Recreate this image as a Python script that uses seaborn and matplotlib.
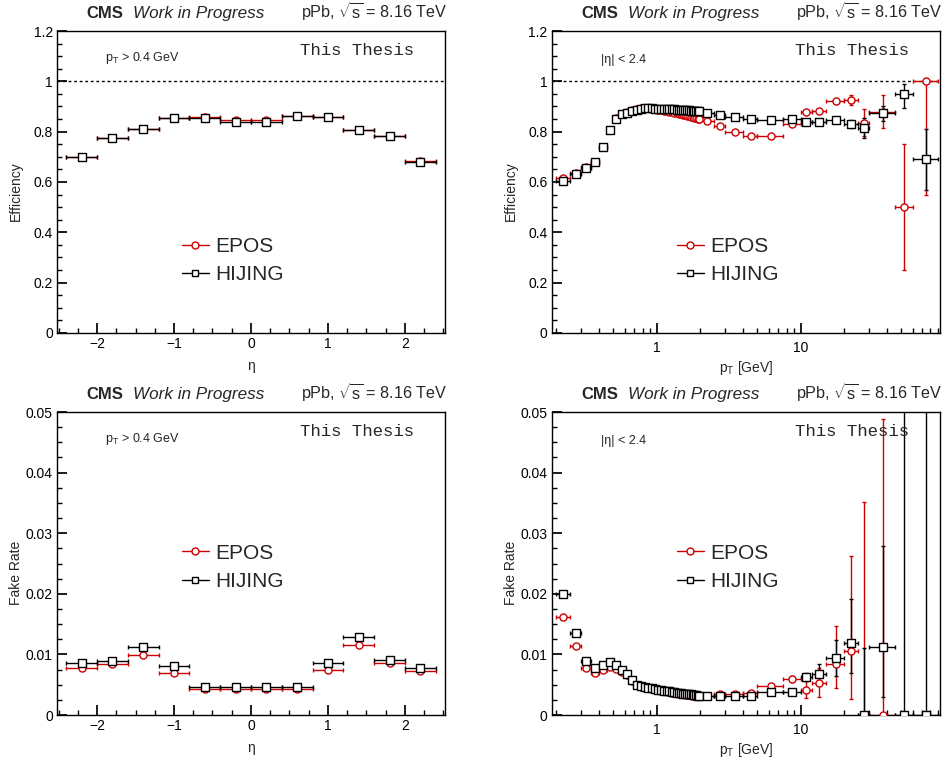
import numpy as np
import matplotlib
matplotlib.use("Agg")
import matplotlib.pyplot as plt
import seaborn as sns
from matplotlib.lines import Line2D
from matplotlib.ticker import MultipleLocator, FuncFormatter, LogLocator, NullFormatter

# ---- data ----
eta_edges = [-2.4, -2.0, -1.6, -1.2, -0.8, -0.4, 0.0, 0.4, 0.8, 1.2, 1.6, 2.0, 2.4]
eff_eta_epos = [0.700, 0.776, 0.810, 0.856, 0.858, 0.847, 0.847, 0.862, 0.858, 0.806, 0.782, 0.682]
eff_eta_hijing = [0.699, 0.775, 0.809, 0.855, 0.856, 0.840, 0.840, 0.861, 0.857, 0.805, 0.781, 0.681]
fake_eta_epos = [0.0078, 0.0085, 0.0099, 0.0070, 0.0043, 0.0043, 0.0043, 0.0043, 0.0074, 0.0115, 0.0086, 0.0073]
fake_eta_hijing = [0.0086, 0.0089, 0.0112, 0.0081, 0.0047, 0.0047, 0.0047, 0.0046, 0.0086, 0.0129, 0.0090, 0.0078]

pt_edges = [0.2, 0.25, 0.3, 0.35, 0.4, 0.45, 0.5, 0.55, 0.6, 0.65, 0.7, 0.75, 0.8, 0.85, 0.9,
            0.95, 1.0, 1.05, 1.1, 1.15, 1.2, 1.25, 1.3, 1.35, 1.4, 1.45, 1.5, 1.55, 1.6, 1.65,
            1.7, 1.75, 1.8, 1.85, 1.9, 1.95, 2.0, 2.5, 3.0, 4.0, 5.0, 7.5, 10.0, 12.0, 15.0,
            20.0, 25.0, 30.0, 45.0, 60.0, 90.0]

eff_pt_epos = [0.615, 0.636, 0.660, 0.680, 0.740, 0.807, 0.853, 0.872, 0.879, 0.886, 0.891, 0.894,
               0.894, 0.893, 0.891, 0.889, 0.887, 0.885, 0.883, 0.881, 0.879, 0.877, 0.875, 0.873,
               0.871, 0.869, 0.867, 0.865, 0.863, 0.861, 0.859, 0.857, 0.855, 0.853, 0.851, 0.849,
               0.844, 0.823, 0.800, 0.783, 0.784, 0.830, 0.880, 0.884, 0.920, 0.926, 0.836, 0.880,
               0.500, 1.000]
eff_pt_hijing = [0.605, 0.632, 0.655, 0.678, 0.738, 0.805, 0.851, 0.870, 0.876, 0.882, 0.888, 0.892,
                 0.893, 0.893, 0.893, 0.892, 0.892, 0.891, 0.891, 0.890, 0.890, 0.889, 0.889, 0.888,
                 0.887, 0.887, 0.886, 0.886, 0.885, 0.885, 0.884, 0.884, 0.883, 0.883, 0.882, 0.882,
                 0.875, 0.868, 0.860, 0.852, 0.848, 0.849, 0.840, 0.840, 0.847, 0.830, 0.816, 0.873,
                 0.950, 0.690]
fake_pt_epos = [0.0161, 0.0114, 0.0078, 0.0069, 0.0074, 0.0080, 0.0076, 0.0071, 0.0066, 0.0056,
                0.0049, 0.0047, 0.0045, 0.0044, 0.0043, 0.0042, 0.0041, 0.0040, 0.0039, 0.0039,
                0.0038, 0.0037, 0.0037, 0.0036, 0.0035, 0.0035, 0.0034, 0.0034, 0.0033, 0.0033,
                0.0033, 0.0032, 0.0032, 0.0032, 0.0031, 0.0031,
                0.0032, 0.0034, 0.0035, 0.0037, 0.0048, 0.0059, 0.0042, 0.0053, 0.0085, 0.0106,
                0.0, 0.0, np.nan, np.nan]
fake_pt_hijing = [0.0200, 0.0136, 0.0089, 0.0078, 0.0082, 0.0087, 0.0082, 0.0074, 0.0068, 0.0058,
                  0.0050, 0.0048, 0.0046, 0.0045, 0.0044, 0.0043, 0.0042, 0.0041, 0.0040, 0.0040,
                  0.0039, 0.0038, 0.0038, 0.0037, 0.0036, 0.0036, 0.0035, 0.0035, 0.0034, 0.0034,
                  0.0034, 0.0033, 0.0033, 0.0033, 0.0032, 0.0032,
                  0.0031, 0.0031, 0.0031, 0.0031, 0.0038, 0.0038, 0.0063, 0.0067, 0.0094, 0.0119,
                  0.0, 0.0113, 0.0, 0.0]

# vertical errors for the bins above 2 GeV (below that they are hidden by the markers)
eff_epos_dn = [0.003, 0.003, 0.004, 0.004, 0.004, 0.005, 0.008, 0.008, 0.010, 0.020, 0.055, 0.065, 0.25, 0.45]
eff_epos_up = [0.003, 0.003, 0.004, 0.004, 0.004, 0.005, 0.008, 0.008, 0.010, 0.020, 0.055, 0.065, 0.25, 0.0]
eff_hij_dn = [0.002, 0.002, 0.003, 0.003, 0.003, 0.004, 0.005, 0.006, 0.008, 0.015, 0.040, 0.030, 0.055, 0.12]
eff_hij_up = [0.002, 0.002, 0.003, 0.003, 0.003, 0.004, 0.005, 0.006, 0.008, 0.015, 0.040, 0.030, 0.040, 0.12]
fake_epos_dn = [0.0001, 0.0001, 0.0002, 0.0002, 0.0003, 0.0005, 0.0014, 0.0024, 0.0040, 0.0080, 0.0, 0.0, 0.0, 0.0]
fake_epos_up = [0.0001, 0.0001, 0.0002, 0.0002, 0.0003, 0.0005, 0.0014, 0.0024, 0.0062, 0.0156, 0.0352, 0.0488, 0.0, 0.0]
fake_hij_dn = [0.0001, 0.0001, 0.0002, 0.0002, 0.0003, 0.0003, 0.0007, 0.0018, 0.0030, 0.0050, 0.0, 0.0083, 0.0, 0.0]
fake_hij_up = [0.0001, 0.0001, 0.0002, 0.0002, 0.0003, 0.0003, 0.0007, 0.0018, 0.0030, 0.0072, 0.0110, 0.0166, 0.08, 0.08]

RED = "#cc0000"
BLACK = "black"

sns.set_theme(style="ticks")
plt.rcParams['font.family'] = ['Liberation Sans', 'DejaVu Sans']
plt.rcParams.update({
    'mathtext.fontset': 'custom',
    'mathtext.rm': 'Liberation Sans',
    'mathtext.it': 'Liberation Sans:italic',
    'mathtext.bf': 'Liberation Sans:bold',
    'axes.linewidth': 1.0,
    'axes.edgecolor': 'black',
    'xtick.direction': 'in',
    'ytick.direction': 'in',
    'xtick.major.size': 7,
    'ytick.major.size': 7,
    'xtick.minor.size': 3.5,
    'ytick.minor.size': 3.5,
    'xtick.labelsize': 10,
    'ytick.labelsize': 10,
})


def bins(edges):
    e = np.asarray(edges)
    c = 0.5 * (e[:-1] + e[1:])
    return c, c - e[:-1], e[1:] - c


def draw(ax, edges, y, dn, up, color, marker, size):
    x, xl, xh = bins(edges)
    y = np.asarray(y, dtype=float)
    ax.errorbar(x, y, xerr=[xl, xh], yerr=[dn, up], fmt='none', ecolor=color,
                elinewidth=1.0, capsize=1.2, capthick=1.0, zorder=2)
    sns.scatterplot(x=x, y=y, marker=marker, s=size, color='white', edgecolor=color,
                    linewidth=1.0, ax=ax, zorder=3, legend=False)


def pad(n, high):
    return np.r_[np.zeros(n), high]


fmt = FuncFormatter(lambda v, p: ("%g" % v).replace("-", "\u2212"))

fig, axes = plt.subplots(2, 2, figsize=(9.45, 7.58), dpi=100)
ax_tl, ax_tr = axes[0]
ax_bl, ax_br = axes[1]
ax_tl.set_position([0.0603, 0.5607, 0.4106, 0.3984])
ax_tr.set_position([0.5840, 0.5607, 0.4106, 0.3984])
ax_bl.set_position([0.0603, 0.0567, 0.4106, 0.3997])
ax_br.set_position([0.5840, 0.0567, 0.4106, 0.3997])

CS, SS = 26, 28  # marker areas for circles / squares

n_eta = len(eff_eta_epos)
z = np.zeros(n_eta)
draw(ax_tl, eta_edges, eff_eta_epos, z + 0.002, z + 0.002, RED, 'o', CS)
draw(ax_tl, eta_edges, eff_eta_hijing, z + 0.002, z + 0.002, BLACK, 's', SS)
draw(ax_bl, eta_edges, fake_eta_epos, z + 0.0001, z + 0.0001, RED, 'o', CS)
draw(ax_bl, eta_edges, fake_eta_hijing, z + 0.0001, z + 0.0001, BLACK, 's', SS)

n_low = len(pt_edges) - 1 - len(eff_epos_dn)
draw(ax_tr, pt_edges, eff_pt_epos, pad(n_low, eff_epos_dn), pad(n_low, eff_epos_up), RED, 'o', CS)
draw(ax_tr, pt_edges, eff_pt_hijing, pad(n_low, eff_hij_dn), pad(n_low, eff_hij_up), BLACK, 's', SS)
draw(ax_br, pt_edges, fake_pt_epos, pad(n_low, fake_epos_dn), pad(n_low, fake_epos_up), RED, 'o', CS)
draw(ax_br, pt_edges, fake_pt_hijing, pad(n_low, fake_hij_dn), pad(n_low, fake_hij_up), BLACK, 's', SS)

handles = [Line2D([], [], color=RED, marker='o', mfc='white', mec=RED, ms=5, lw=1.0),
           Line2D([], [], color=BLACK, marker='s', mfc='white', mec=BLACK, ms=5, lw=1.0)]

for ax in (ax_tl, ax_tr, ax_bl, ax_br):
    ax.set_facecolor('white')
    for s in ax.spines.values():
        s.set_visible(True)
        s.set_color('black')
    ax.tick_params(which='both', top=False, right=False, colors='black', pad=3)
    ax.yaxis.set_major_formatter(fmt)
    ax.text(0.077, 1.042, "CMS", transform=ax.transAxes, fontsize=12, fontweight='bold',
            va='baseline', ha='left')
    ax.text(0.196, 1.042, "Work in Progress", transform=ax.transAxes, fontsize=12.3,
            style='italic', va='baseline', ha='left')
    ax.text(1.005, 1.042, r"pPb, $\sqrt{\mathrm{s}}$ = 8.16 TeV", transform=ax.transAxes,
            fontsize=11.6, va='baseline', ha='right')
    ax.text(0.626, 0.937, "This Thesis", transform=ax.transAxes, fontsize=12.5,
            family='Liberation Mono', va='center', ha='left')

for ax in (ax_tl, ax_tr):
    ax.set_ylim(0, 1.2)
    ax.yaxis.set_major_locator(MultipleLocator(0.2))
    ax.yaxis.set_minor_locator(MultipleLocator(0.05))
    ax.axhline(1.0, color='black', ls=(0, (2, 2)), lw=1.0, zorder=1)
    ax.set_ylabel("Efficiency", fontsize=10)
    ax.legend(handles, ["EPOS", "HIJING"], loc='center left', bbox_to_anchor=(0.322, 0.24),
              frameon=False, fontsize=15, handlelength=1.3, handletextpad=0.3,
              labelspacing=0.45, borderpad=0, borderaxespad=0)

for ax in (ax_bl, ax_br):
    ax.set_ylim(0, 0.05)
    ax.yaxis.set_major_locator(MultipleLocator(0.01))
    ax.yaxis.set_minor_locator(MultipleLocator(0.0025))
    ax.set_ylabel("Fake Rate", fontsize=10)
    ax.legend(handles, ["EPOS", "HIJING"], loc='center left', bbox_to_anchor=(0.322, 0.487),
              frameon=False, fontsize=15, handlelength=1.3, handletextpad=0.3,
              labelspacing=0.45, borderpad=0, borderaxespad=0)

for ax in (ax_tl, ax_bl):
    ax.set_xlim(-2.52, 2.52)
    ax.xaxis.set_major_locator(MultipleLocator(1))
    ax.xaxis.set_minor_locator(MultipleLocator(0.25))
    ax.xaxis.set_major_formatter(fmt)
    ax.set_xlabel("\u03b7", fontsize=10)
    ax.text(0.124, 0.91, r"p$_{\mathrm{T}}$ > 0.4 GeV", transform=ax.transAxes, fontsize=9,
            va='center', ha='left')

for ax in (ax_tr, ax_br):
    ax.set_xscale('log')
    ax.set_xlim(0.187, 93)
    ax.xaxis.set_major_locator(LogLocator(base=10))
    ax.xaxis.set_minor_locator(LogLocator(base=10, subs=np.arange(2, 10)))
    ax.xaxis.set_major_formatter(fmt)
    ax.xaxis.set_minor_formatter(NullFormatter())
    ax.tick_params(axis='x', which='major', pad=6)
    ax.set_xlabel(r"p$_{\mathrm{T}}$ [GeV]", fontsize=10)
    ax.text(0.127, 0.905, "|\u03b7| < 2.4", transform=ax.transAxes, fontsize=9,
            va='center', ha='left')

for ax in axes.flat:
    ax.yaxis.set_label_coords(-0.088, 0.47)
    ax.xaxis.set_label_coords(0.5, -0.085)

fig.savefig("out.png", dpi=100, facecolor='white')
